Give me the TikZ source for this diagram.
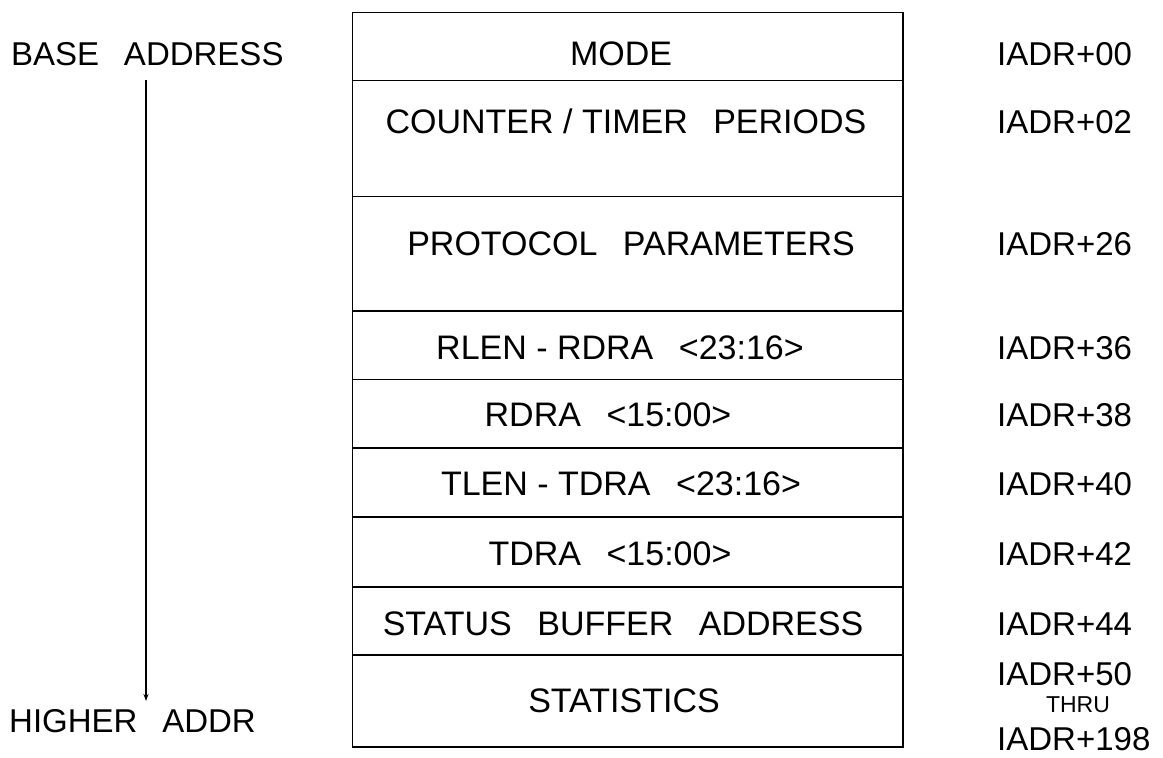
\documentclass[tikz,border=0pt]{standalone}
\usepackage{fontspec}
\setmainfont{Liberation Sans}
\usetikzlibrary{arrows.meta}
\newcommand{\dsp}{\hspace{0.75em}}
\begin{document}
\begin{tikzpicture}[x=1pt,y=-1pt,
  lbl/.style={inner sep=0pt,anchor=base,font=\fontsize{34}{36}\selectfont},
  lbll/.style={inner sep=0pt,anchor=base west,font=\fontsize{33}{36}\selectfont},
  small/.style={inner sep=0pt,anchor=base,font=\fontsize{23}{26}\selectfont},
  cell/.style={draw,line width=1.5pt}]
\useasboundingbox (0,0) rectangle (1163,758);
% cells
\path[cell] (352.7,12.3) rectangle (903,80.7);
\path[cell] (352.7,80.7) rectangle (903,196.7);
\path[cell] (352.7,196.7) rectangle (903,311);
\path[cell] (352.7,311) rectangle (903,379.5);
\path[cell] (352.7,379.5) rectangle (903,448);
\path[cell] (352.7,448) rectangle (903,517);
\path[cell] (352.7,517) rectangle (903,587);
\path[cell] (352.7,587) rectangle (903,655);
\path[cell] (352.7,655) rectangle (903,747);
% cell texts
\node[lbl] (tmode) at (621,65) {MODE};
\node[lbl] (tctr) at (626,133) {COUNTER / TIMER\dsp PERIODS};
\node[lbl] (tprot) at (631,255) {PROTOCOL\dsp PARAMETERS};
\node[lbl] (trlen) at (620,359) {RLEN - RDRA\dsp {<}23:16{>}};
\node[lbl] (trdra) at (608,426) {RDRA\dsp {<}15:00{>}};
\node[lbl] (ttlen) at (621,495) {TLEN - TDRA\dsp {<}23:16{>}};
\node[lbl] (ttdra) at (610,565) {TDRA\dsp {<}15:00{>}};
\node[lbl] (tstat) at (623,635) {STATUS\dsp BUFFER\dsp ADDRESS};
\node[lbl] (tstats) at (624,712) {STATISTICS};
% right addresses
\node[lbll] (i00) at (997,65) {IADR+00};
\node[lbll] (i02) at (997,133) {IADR+02};
\node[lbll] (i26) at (997,255) {IADR+26};
\node[lbll] (i36) at (997,359) {IADR+36};
\node[lbll] (i38) at (997,426) {IADR+38};
\node[lbll] (i40) at (997,495) {IADR+40};
\node[lbll] (i42) at (997,565) {IADR+42};
\node[lbll] (i44) at (997,635) {IADR+44};
\node[lbll] (i50) at (997,685) {IADR+50};
\node[small] (thru) at (1078,712) {THRU};
\node[lbll] (i198) at (997,750) {IADR+198};
% left
\node[lbll] (base) at (11,65) {BASE\dsp ADDRESS};
\node[lbll] (high) at (9,732) {HIGHER\dsp ADDR};
\coordinate (a1) at (146,80);
\coordinate (a2) at (146,701);
\draw[line width=1.5pt,-{Stealth[length=7pt,width=5pt]}] (a1) -- (a2);
\end{tikzpicture}
\end{document}
